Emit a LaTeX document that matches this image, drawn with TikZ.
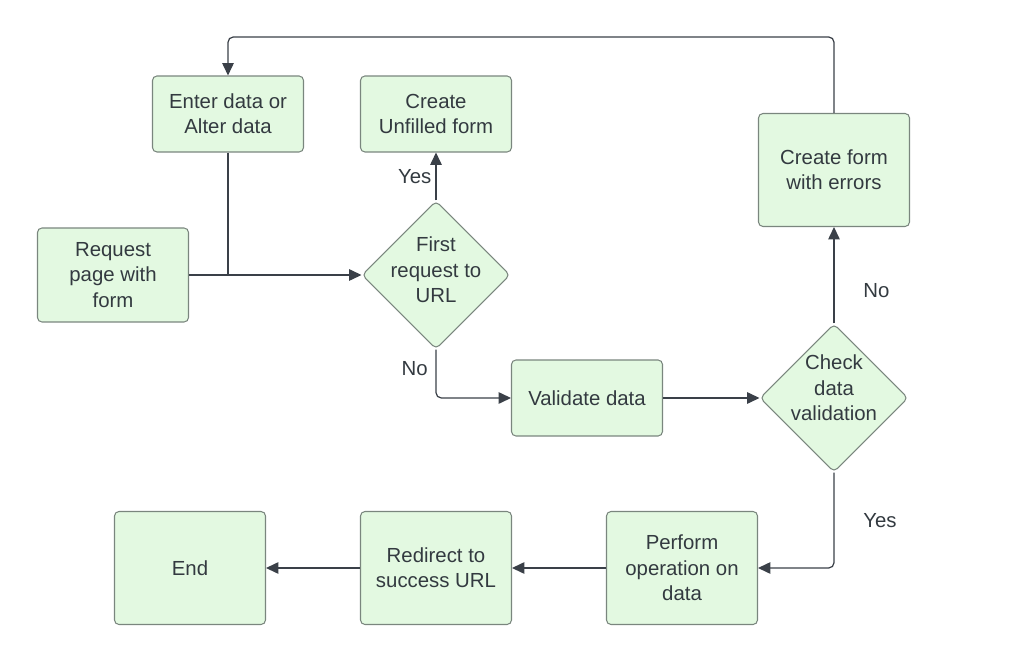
\documentclass[tikz,border=0pt]{standalone}
\usepackage{fontspec}
\setmainfont{Liberation Sans}
\usepackage{xcolor}
\usepackage{tikz}
\usetikzlibrary{arrows.meta,positioning,calc,shapes.geometric}
\definecolor{flfill}{RGB}{227,249,225}
\definecolor{flborder}{RGB}{122,134,126}
\definecolor{flline}{RGB}{58,64,72}
\definecolor{fltext}{RGB}{51,58,64}
\tikzset{
  procbox/.style={draw=flborder, line width=0.6pt, fill=flfill, rounded corners=2.5pt, minimum width=3.02cm, minimum height=1.52cm, align=center, text=fltext},
  tallbox/.style={procbox, minimum height=2.26cm},
  decide/.style={diamond, draw=flborder, line width=0.6pt, fill=flfill, rounded corners=2.5pt, minimum width=2.96cm, minimum height=2.96cm, inner sep=0pt, aspect=1},
  dtext/.style={align=center, text=fltext},
  arr/.style={-{Triangle[length=7pt,width=6.5pt]}, flline, line width=0.7pt, rounded corners=3pt},
  lnk/.style={flline, line width=0.7pt, rounded corners=3pt},
  lbl/.style={text=fltext},
}

\begin{document}
\begin{tikzpicture}[x=0.02cm, y=-0.02cm, font=\fontsize{11.6}{14.4}\selectfont]
  \useasboundingbox (0,0) rectangle (1024,665);
  % boxes
  \node[procbox] (enter) at (228,114) {Enter data or\\Alter data};
  \node[procbox] (unfilled) at (436,114) {Create\\Unfilled form};
  \node[procbox, minimum height=1.88cm] (request) at (113,275) {Request\\page with\\form};
  \node[decide] (first) at (436,275) {};
  \node[dtext] (firstt) at ($(first.center)+(0,-5)$) {First\\request to\\URL};
  \node[procbox] (validate) at (587,398) {Validate data};
  \node[tallbox] (errors) at (834,170) {Create form\\with errors};
  \node[decide] (check) at (834,398) {};
  \node[dtext] (checkt) at ($(check.center)+(0,-10)$) {Check\\data\\validation};
  \node[tallbox] (perform) at (682,568) {Perform\\operation on\\data};
  \node[tallbox] (redirect) at (436,568) {Redirect to\\success URL};
  \node[tallbox] (finish) at (190,568) {End};
  % connectors
  \coordinate (join) at (enter.south |- request.east);
  \draw[arr] (request.east) -- (first.west);
  \draw[lnk] (enter.south) -- (join);
  \draw[arr] (first.north) -- node[lbl, left=-1pt, pos=0.5] {Yes} (unfilled.south);
  \draw[arr] (first.south) |- node[lbl, left=1pt, pos=0.2] {No} (validate.west);
  \draw[arr] (validate.east) -- (check.west);
  \draw[arr] (check.north) -- node[lbl, right=13pt, pos=0.34] {No} (errors.south);
  \draw[arr] (errors.north) -- ++(0,-76) -| (enter.north);
  \draw[arr] (check.south) |- node[lbl, right=13pt, pos=0.25] {Yes} (perform.east);
  \draw[arr] (perform.west) -- (redirect.east);
  \draw[arr] (redirect.west) -- (finish.east);
\end{tikzpicture}
\end{document}
